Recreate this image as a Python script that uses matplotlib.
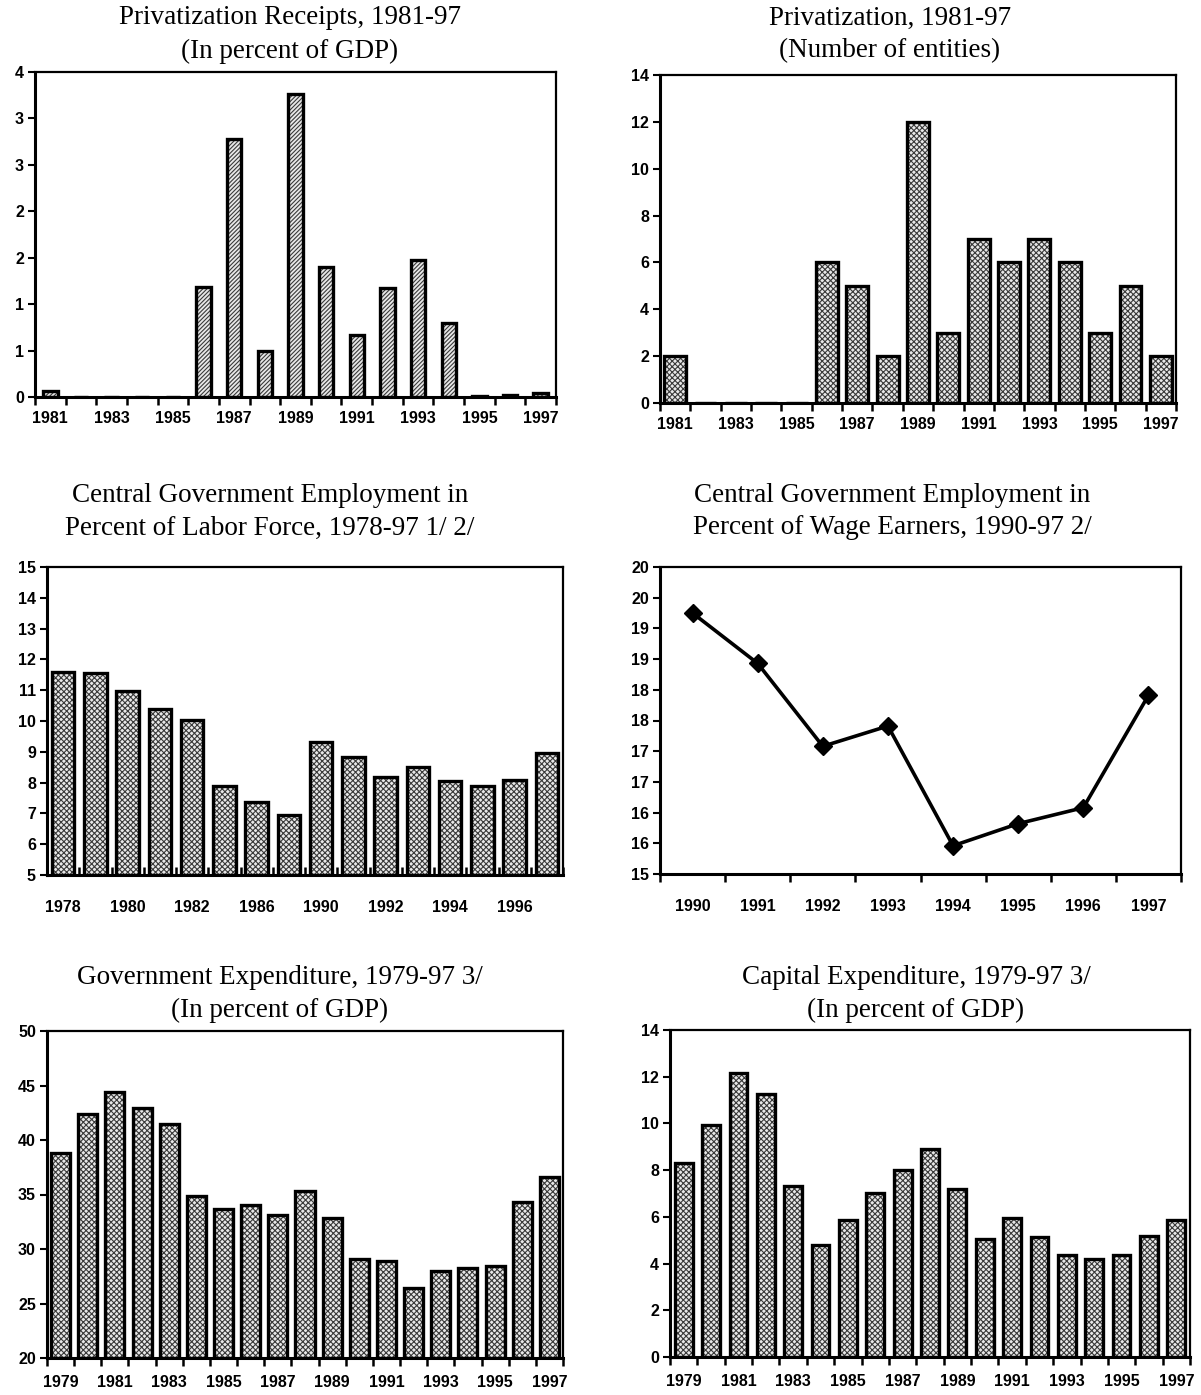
import matplotlib
matplotlib.use('Agg')
import matplotlib.pyplot as plt
import numpy as np

plt.rcParams['font.family'] = ['Liberation Sans Narrow', 'Liberation Sans', 'DejaVu Sans']
plt.rcParams['hatch.linewidth'] = 0.8

# panel 1: privatization receipts, percent of GDP
receipt_years = [str(y) for y in range(1981, 1998)]
receipts = [0.06, 0, 0, 0, 0, 1.19, 2.78, 0.50, 3.26, 1.40, 0.67, 1.17, 1.48, 0.80, 0.01, 0.02, 0.04]

# panel 2: number of entities privatized
entity_years = [str(y) for y in range(1981, 1998)]
entities = [2, 0, 0, 0, 0, 6, 5, 2, 12, 3, 7, 6, 7, 6, 3, 5, 2]

# panel 3: central government employment, percent of labor force
labor_years = ['1978', '1979', '1980', '1981', '1982', '1984', '1986', '1988', '1990',
               '1991', '1992', '1993', '1994', '1995', '1996', '1997']
labor_share = [11.6, 11.55, 10.98, 10.38, 10.03, 7.88, 7.37, 6.96, 9.32,
               8.83, 8.17, 8.51, 8.05, 7.9, 8.08, 8.97]

# panel 4: central government employment, percent of wage earners
wage_years = ['1990', '1991', '1992', '1993', '1994', '1995', '1996', '1997']
wage_share = [19.25, 18.43, 17.08, 17.41, 15.46, 15.82, 16.08, 17.91]

# panel 5: government expenditure, percent of GDP
exp_years = [str(y) for y in range(1979, 1998)]
expenditure = [38.8, 42.4, 44.4, 42.9, 41.5, 34.9, 33.7, 34.0, 33.1, 35.3, 32.8,
               29.1, 28.9, 26.4, 28.0, 28.3, 28.4, 34.3, 36.6]

# panel 6: capital expenditure, percent of GDP
cap_years = [str(y) for y in range(1979, 1998)]
capital = [8.3, 9.93, 12.18, 11.27, 7.33, 4.78, 5.88, 7.02, 7.99, 8.92, 7.19,
           5.05, 5.93, 5.14, 4.37, 4.21, 4.37, 5.16, 5.86]

W, H = 1201, 1395
fig = plt.figure(figsize=(W / 100, H / 100), dpi=100)


def box(l, r, t, b):
    return [l / W, 1 - b / H, (r - l) / W, (b - t) / H]


def title(x, y, lines):
    for k, s in enumerate(lines):
        fig.text(x / W, 1 - (y + k * 33) / H, s, ha='center', va='center',
                 fontsize=19.5, family=['Liberation Serif', 'DejaVu Serif'])


def style(ax, xdir='out'):
    for s in ax.spines.values():
        s.set_linewidth(1.6)
    ax.spines['bottom'].set_linewidth(2.2)
    ax.spines['left'].set_linewidth(2.2)
    ax.tick_params(axis='y', direction='out', length=5, width=1.5, pad=3)
    ax.tick_params(axis='x', which='minor', direction=xdir, length=6, width=1.8)
    ax.tick_params(axis='x', which='major', length=0, pad=10)
    for lab in ax.get_xticklabels() + ax.get_yticklabels():
        lab.set_fontweight('bold')
        lab.set_fontsize(11.5)


def bars(ax, cats, vals, width, hatch='xxxxxx', ymin=0):
    x = np.arange(len(cats))
    h = np.array(vals) - ymin
    ax.bar(x, h, width, bottom=ymin, color='#e8e8e8', hatch=hatch,
           edgecolor='#3a3a3a', linewidth=0)
    ax.bar(x, h, width, bottom=ymin, facecolor='none', edgecolor='black', linewidth=2.4)
    ax.set_xlim(-0.5, len(cats) - 0.5)
    ax.set_xticks(x[::2])
    ax.set_xticklabels(cats[::2])
    ax.set_xticks(np.arange(len(cats) + 1) - 0.5, minor=True)


def rlab(v):
    return str(int(np.floor(v + 0.5)))


# panel 1
ax1 = fig.add_axes(box(35, 556, 72, 397))
bars(ax1, receipt_years, receipts, 0.47, hatch='////////')
ax1.set_ylim(0, 3.5)
yt = np.arange(0, 3.51, 0.5)
ax1.set_yticks(yt)
ax1.set_yticklabels([rlab(v) for v in yt])
style(ax1)
title(290, 18, ['Privatization Receipts, 1981-97', '(In percent of GDP)'])

# panel 2
ax2 = fig.add_axes(box(660, 1176, 75, 403))
bars(ax2, entity_years, entities, 0.72)
ax2.set_ylim(0, 14)
ax2.set_yticks(range(0, 15, 2))
style(ax2)
title(890, 18, ['Privatization, 1981-97', '(Number of entities)'])

# panel 3
ax3 = fig.add_axes(box(47, 563, 567, 875))
bars(ax3, labor_years, labor_share, 0.7, ymin=5)
ax3.set_ylim(5, 15)
ax3.set_yticks(range(5, 16))
style(ax3, xdir='in')
ax3.tick_params(axis='x', which='major', pad=18)
title(270, 495, ['Central Government Employment in', 'Percent of Labor Force, 1978-97 1/ 2/'])

# panel 4
ax4 = fig.add_axes(box(660, 1181, 567, 874))
x4 = np.arange(len(wage_years))
ax4.plot(x4, wage_share, color='black', linewidth=2.6, marker='D', markersize=9)
ax4.set_xlim(-0.5, len(wage_years) - 0.5)
ax4.set_xticks(x4)
ax4.set_xticklabels(wage_years)
ax4.set_xticks(np.arange(len(wage_years) + 1) - 0.5, minor=True)
ax4.set_ylim(15, 20)
yt4 = np.arange(15, 20.01, 0.5)
ax4.set_yticks(yt4)
ax4.set_yticklabels([rlab(v) for v in yt4])
style(ax4)
ax4.tick_params(axis='x', which='major', pad=18)
title(892, 495, ['Central Government Employment in', 'Percent of Wage Earners, 1990-97 2/'])

# panel 5
ax5 = fig.add_axes(box(47, 563, 1031, 1358))
bars(ax5, exp_years, expenditure, 0.7, ymin=20)
ax5.set_ylim(20, 50)
ax5.set_yticks(range(20, 51, 5))
style(ax5)
ax5.tick_params(axis='x', which='major', pad=12)
title(280, 977, ['Government Expenditure, 1979-97 3/', '(In percent of GDP)'])

# panel 6
ax6 = fig.add_axes(box(670, 1190, 1030, 1357))
bars(ax6, cap_years, capital, 0.65)
ax6.set_ylim(0, 14)
ax6.set_yticks(range(0, 15, 2))
style(ax6)
ax6.tick_params(axis='x', which='major', pad=12)
title(916, 977, ['Capital Expenditure, 1979-97 3/', '(In percent of GDP)'])

fig.savefig('out.png', dpi=100, facecolor='white')
